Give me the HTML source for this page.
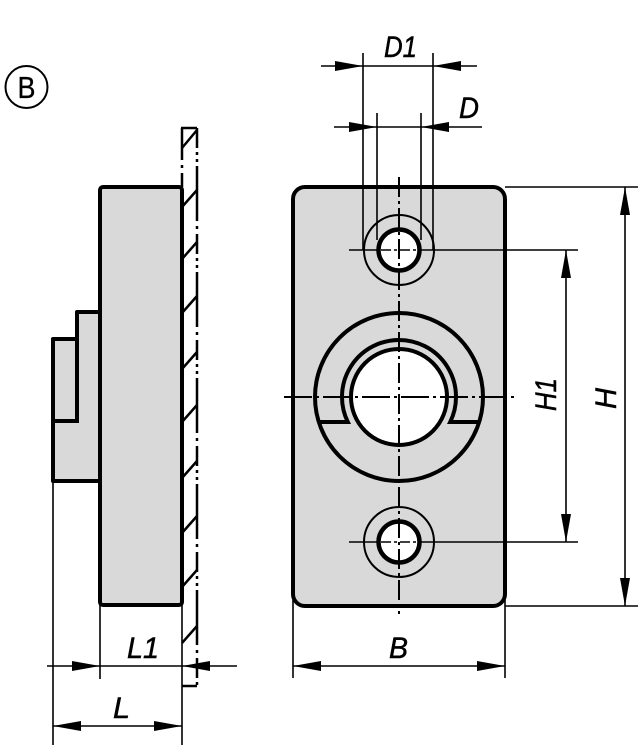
<!DOCTYPE html>
<html><head><meta charset="utf-8"><style>
html,body{margin:0;padding:0;background:#fff;}
svg{display:block;}
text{font-family:"Liberation Sans",sans-serif;font-style:italic;fill:#000;stroke:#000;stroke-width:0.5;}
</style></head><body>
<svg width="643" height="750" viewBox="0 0 643 750" xmlns="http://www.w3.org/2000/svg">
<defs>
<marker id="a" viewBox="0 0 28 10" refX="28" refY="5" markerWidth="28" markerHeight="10" markerUnits="userSpaceOnUse" orient="auto">
<path d="M0,0 L28,5 L0,10 Z" fill="#000"/>
</marker>
</defs>

<!-- Circle B -->
<circle cx="26.5" cy="87" r="21" fill="none" stroke="#000" stroke-width="2"/>
<text x="17.5" y="98" font-size="31" style="font-style:normal;stroke-width:0.3" textLength="18" lengthAdjust="spacingAndGlyphs">B</text>

<!-- LEFT VIEW -->
<path d="M100,312 L77,312 L77,339 L53,339 L53,481 L100,481 Z" fill="#d9d9d9" stroke="#000" stroke-width="4" stroke-linejoin="round"/>
<path d="M77,312 L77,421 L53,421" fill="none" stroke="#000" stroke-width="4"/>
<rect x="100" y="187" width="82" height="418" rx="3" fill="#d9d9d9" stroke="#000" stroke-width="4"/>

<!-- plate -->
<g stroke="#000" stroke-width="2.5" fill="none">
<path d="M181,128 H197"/>
<path d="M182,128 V187" stroke-dasharray="32 5 3 5"/>
<path d="M197,128 V686" stroke-dasharray="20 4 3 4 3 4 55 5 3 5"/>
<path d="M182,686 H197"/>
<path d="M182,148 L197,130"/>
<path d="M182,207 L197,190"/>
<path d="M182,259 L197,242"/>
<path d="M182,313 L197,296"/>
<path d="M182,369 L197,352"/>
<path d="M182,422 L197,405"/>
<path d="M182,478 L197,461"/>
<path d="M182,533 L197,516"/>
<path d="M182,587 L197,570"/>
<path d="M182,643 L197,626"/>
</g>

<!-- left dims -->
<g stroke="#000" stroke-width="1.6" fill="none">
<path d="M100,605 V679"/>
<path d="M53,481 V745"/>
<path d="M182,605 V745"/>
<path d="M47,666 H100" marker-end="url(#a)"/>
<path d="M100,666 H182"/>
<path d="M237,666 H182" marker-end="url(#a)"/>
<path d="M118,726 H53" marker-end="url(#a)"/>
<path d="M118,726 H182" marker-end="url(#a)"/>
</g>
<text x="127" y="658" font-size="30" textLength="32" lengthAdjust="spacingAndGlyphs">L1</text>
<text x="113" y="718" font-size="30" textLength="17" lengthAdjust="spacingAndGlyphs">L</text>

<!-- RIGHT VIEW -->
<rect x="293" y="187" width="212" height="419" rx="12" fill="#d9d9d9" stroke="#000" stroke-width="4"/>

<circle cx="399" cy="397" r="84" fill="none" stroke="#000" stroke-width="4"/>
<path d="M318.8,422 L347.8,422 A57,57 0 1 1 450.2,422 L479.2,422" fill="none" stroke="#000" stroke-width="4"/>
<circle cx="399" cy="397" r="48" fill="#fff" stroke="#000" stroke-width="4"/>

<circle cx="399" cy="250" r="35" fill="none" stroke="#000" stroke-width="2"/>
<circle cx="399" cy="250" r="20.5" fill="#fff" stroke="#000" stroke-width="4.5"/>
<circle cx="399" cy="542" r="35" fill="none" stroke="#000" stroke-width="2"/>
<circle cx="399" cy="542" r="20.5" fill="#fff" stroke="#000" stroke-width="4.5"/>

<g stroke="#000" stroke-width="2" fill="none">
<path d="M399,177 V614" stroke-dasharray="20 4 3 4"/>
<path d="M284,397 H514" stroke-dasharray="28 4 3 4"/>
</g>
<g stroke="#000" stroke-width="1.6" fill="none">
<path d="M349,250 H379"/>
<path d="M381,250 H418" stroke-dasharray="10 3 3 3"/>
<path d="M419,250 H578"/>
<path d="M349,542 H379"/>
<path d="M381,542 H418" stroke-dasharray="10 3 3 3"/>
<path d="M419,542 H578"/>
</g>

<!-- top dims -->
<g stroke="#000" stroke-width="1.6" fill="none">
<path d="M363,53 V250"/>
<path d="M433,53 V250"/>
<path d="M377,113 V240"/>
<path d="M421,113 V240"/>
<path d="M321,66 H363" marker-end="url(#a)"/>
<path d="M363,66 H433"/>
<path d="M477,66 H433" marker-end="url(#a)"/>
<path d="M334,127 H377" marker-end="url(#a)"/>
<path d="M377,127 H421"/>
<path d="M482,127 H421" marker-end="url(#a)"/>
</g>
<text x="384" y="57" font-size="30" textLength="33" lengthAdjust="spacingAndGlyphs">D1</text>
<text x="459" y="118" font-size="30" textLength="20" lengthAdjust="spacingAndGlyphs">D</text>

<!-- H dims -->
<g stroke="#000" stroke-width="1.6" fill="none">
<path d="M505,187 H638"/>
<path d="M505,606 H638"/>
<path d="M625,397 V187" marker-end="url(#a)"/>
<path d="M625,397 V606" marker-end="url(#a)"/>
<path d="M566,397 V250" marker-end="url(#a)"/>
<path d="M566,397 V542" marker-end="url(#a)"/>
</g>
<text transform="translate(556,411) rotate(-90)" font-size="30" textLength="33" lengthAdjust="spacingAndGlyphs">H1</text>
<text transform="translate(616,409) rotate(-90)" font-size="30" textLength="21" lengthAdjust="spacingAndGlyphs">H</text>

<!-- B dim -->
<g stroke="#000" stroke-width="1.6" fill="none">
<path d="M293,600 V678"/>
<path d="M505,600 V678"/>
<path d="M399,666 H293" marker-end="url(#a)"/>
<path d="M399,666 H505" marker-end="url(#a)"/>
</g>
<text x="389" y="658" font-size="30" textLength="19" lengthAdjust="spacingAndGlyphs">B</text>
</svg>
</body></html>
